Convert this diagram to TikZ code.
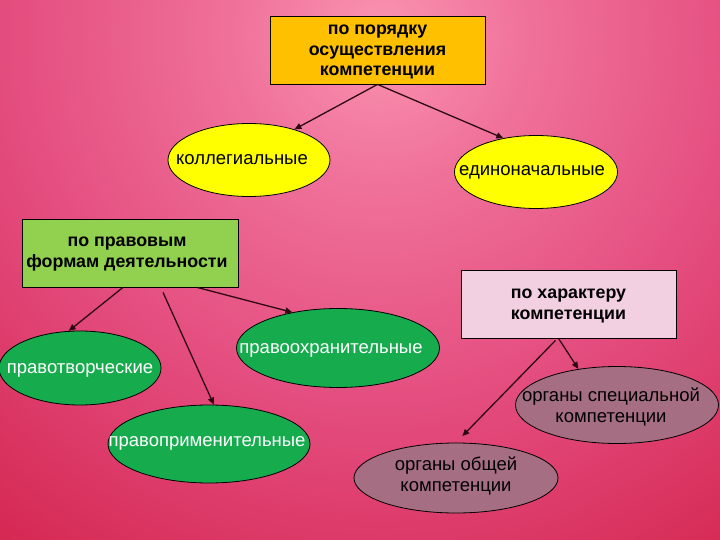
\documentclass[tikz,border=0pt]{standalone}
\usepackage{fontspec}
\setmainfont{Liberation Sans}
\usetikzlibrary{shapes.geometric,arrows.meta}
\definecolor{bglight}{RGB}{250,148,178}
\definecolor{bgmidA}{RGB}{240,115,155}
\definecolor{bgmidB}{RGB}{228,78,128}
\definecolor{bgmidC}{RGB}{214,42,85}
\definecolor{bgmidD}{RGB}{206,30,70}
\definecolor{bgdark}{RGB}{196,16,50}
\definecolor{boxorange}{RGB}{255,192,0}
\definecolor{boxgreen}{RGB}{146,208,80}
\definecolor{boxpink}{RGB}{242,208,226}
\definecolor{ellyellow}{RGB}{255,255,0}
\definecolor{ellgreen}{RGB}{22,172,78}
\definecolor{ellmauve}{RGB}{166,110,130}
\definecolor{arrowcol}{RGB}{45,10,15}
\pgfdeclareradialshading{bgshade}{\pgfpoint{0bp}{0bp}}{color(0bp)=(bglight); color(5bp)=(bgmidA); color(13bp)=(bgmidB); color(22bp)=(bgmidC); color(27bp)=(bgmidD); color(34bp)=(bgdark); color(50bp)=(bgdark)}
\tikzset{
  catbox/.style={draw=black, line width=0.8pt, inner sep=0pt},
  oval/.style={ellipse, draw=black, line width=0.8pt, inner sep=0pt},
  boldtxt/.style={align=center, font=\fontsize{17.8}{20.5}\selectfont\bfseries},
  regtxt/.style={align=center, font=\fontsize{18.5}{21}\selectfont},
  conn/.style={draw=arrowcol, line width=1.3pt, -{Triangle[length=7pt,width=6pt]}}
}
\begin{document}
\begin{tikzpicture}[x=1pt,y=-1pt]
\useasboundingbox (0,0) rectangle (720,540);
\begin{scope}
\clip (0,0) rectangle (720,540);
\shade[shading=bgshade] (380,35) circle (700);
\end{scope}
% boxes
\node[catbox, fill=boxorange, minimum width=215pt, minimum height=68pt] (top) at (377.5,50) {};
\node[boldtxt] (toptxt) at (377.5,52) {по порядку\\осуществления\\компетенции};
\node[catbox, fill=boxgreen, minimum width=216pt, minimum height=68pt] (legal) at (130,253) {};
\node[boldtxt] (legaltxt) at (127,254) {по правовым\\формам деятельности};
\node[catbox, fill=boxpink, minimum width=215pt, minimum height=68pt] (nature) at (568.5,304) {};
\node[boldtxt] (naturetxt) at (568.5,306) {по характеру\\компетенции};
% ellipses
\node[oval, fill=ellyellow, minimum width=162pt, minimum height=73pt] (coll) at (249,160) {};
\node[regtxt] (colltxt) at (242,160) {коллегиальные};
\node[oval, fill=ellyellow, minimum width=163pt, minimum height=73pt] (edin) at (536,172) {};
\node[regtxt] (edintxt) at (532,172) {единоначальные};
\node[oval, fill=ellgreen, minimum width=162pt, minimum height=74pt] (tvor) at (80,368) {};
\node[regtxt, text=white] (tvortxt) at (80,370) {правотворческие};
\node[oval, fill=ellgreen, minimum width=203pt, minimum height=79pt] (okhr) at (338,348) {};
\node[regtxt, text=white] (okhrtxt) at (331,350) {правоохранительные};
\node[oval, fill=ellgreen, minimum width=202pt, minimum height=78pt] (prim) at (209,444) {};
\node[regtxt, text=white] (primtxt) at (207,443) {правоприменительные};
\node[oval, fill=ellmauve, minimum width=203pt, minimum height=77pt] (spec) at (617,405) {};
\node[regtxt] (spectxt) at (611,407) {органы специальной\\компетенции};
\node[oval, fill=ellmauve, minimum width=204pt, minimum height=70pt] (gen) at (456,478) {};
\node[regtxt] (gentxt) at (456,476) {органы общей\\компетенции};
% connectors
\draw[conn] (top.south) -- (coll.34);
\draw[conn] (top.south) -- (edin.134);
\draw[conn] ([xshift=-7pt]legal.south) -- (tvor.107);
\draw[conn] ([xshift=33pt,yshift=-5pt]legal.south) -- (prim.83);
\draw[conn] ([xshift=67pt]legal.south) -- (okhr.142);
\draw[conn] ([xshift=-10pt]nature.south) -- (spec.137);
\draw[conn, shorten >=9pt] ([xshift=-13pt,yshift=-2pt]nature.south) -- (gen.north);
\end{tikzpicture}
\end{document}
